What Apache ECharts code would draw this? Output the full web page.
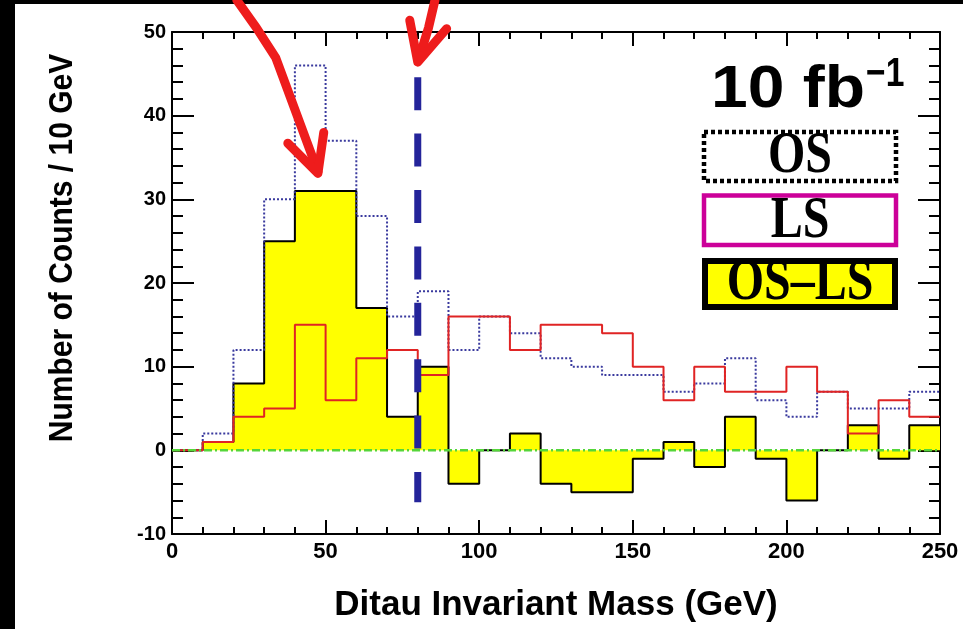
<!DOCTYPE html>
<html><head><meta charset="utf-8">
<script src="https://cdn.jsdelivr.net/npm/echarts@6/dist/echarts.min.js"></script>
<style>html,body{margin:0;padding:0;background:#fff}#c{width:963px;height:629px}</style>
</head><body><div id="c"></div>
<script>
// ---- data (counts per 10 GeV bin) ----
const binLow = [0,10,20,30,40,50,60,70,80,90,100,110,120,130,140,150,160,170,180,190,200,210,220,230,240];
const binWidth = 10;
const osCounts   = [0,2,12,30,46,37,28,16,19,12,16,14,11,10,9,9,7,8,11,6,4,7,5,5,7];
const lsCounts   = [0,1,4,5,15,6,11,12,9,16,16,12,15,15,14,10,6,10,7,7,10,7,2,6,4];
const diffCounts = [0,1,8,25,31,31,17,4,10,-4,0,2,-4,-5,-5,-1,1,-2,4,-1,-6,0,3,-1,3];
const xRange = [0, 250], xStep = 50;
const yRange = [-10, 50], yStep = 10;
// annotation: mass cut line and hand-drawn arrows (data coordinates)
const cutLine = [[80, 44.6], [80, -6.2]];
const zeroLine = [[0, 0], [250, 0]];
const arrow1Shaft = [[21.1, 53.8], [27.5, 50.5], [33.8, 46.9], [47.5, 33.3]];
const arrow1Head  = [[37.7, 36.7], [47.5, 33.1], [49.4, 38.0]];
const arrow2Shaft = [[85.6, 53.8], [83.5, 50.5], [80.2, 46.6]];
const arrow2Head  = [[77.4, 51.4], [80.0, 46.4], [89.4, 50.4]];

function steps(vals) {
  const pts = binLow.map((x, i) => [x, vals[i]]);
  pts.push([binLow[binLow.length - 1] + binWidth, vals[vals.length - 1]]);
  return pts;
}

const SANS = '"Liberation Sans", Arial, Helvetica, sans-serif';
const SERIF = '"Liberation Serif", "Times New Roman", serif';

const axisCommon = {
  type: 'value',
  axisLine: { show: true, onZero: false, lineStyle: { color: '#000', width: 2 } },
  splitLine: { show: false },
  minorSplitLine: { show: false }
};

const chart = echarts.init(document.getElementById('c'), null, { renderer: 'canvas' });
function arrowSeries(data) {
  return { type: 'line', data, symbol: 'none', clip: false, silent: true, z: 20,
    lineStyle: { color: '#ee1c1c', width: 9, cap: 'round', join: 'round' } };
}
chart.setOption({
  backgroundColor: '#ffffff',
  animation: false,
  grid: { left: 172, right: 23, top: 32, bottom: 95, containLabel: false },
  xAxis: [
    Object.assign({}, axisCommon, {
      position: 'bottom', min: xRange[0], max: xRange[1], interval: xStep,
      axisTick: { inside: true, length: 14, lineStyle: { color: '#000', width: 2 } },
      minorTick: { show: true, splitNumber: 5, length: 7, lineStyle: { color: '#000', width: 2 } },
      axisLabel: { color: '#000', fontFamily: SANS, fontWeight: 'bold', fontSize: 22, margin: 7 }
    }),
    Object.assign({}, axisCommon, {
      position: 'top', min: xRange[0], max: xRange[1], interval: xStep,
      axisTick: { inside: true, length: 14, lineStyle: { color: '#000', width: 2 } },
      minorTick: { show: true, splitNumber: 5, length: 7, lineStyle: { color: '#000', width: 2 } },
      axisLabel: { show: false }
    })
  ],
  yAxis: [
    Object.assign({}, axisCommon, {
      position: 'left', min: yRange[0], max: yRange[1], interval: yStep,
      axisTick: { inside: true, length: 22, lineStyle: { color: '#000', width: 2 } },
      minorTick: { show: true, splitNumber: 5, length: 11, lineStyle: { color: '#000', width: 2 } },
      axisLabel: { color: '#000', fontFamily: SANS, fontWeight: 'bold', fontSize: 20, margin: 6 }
    }),
    Object.assign({}, axisCommon, {
      position: 'right', min: yRange[0], max: yRange[1], interval: yStep,
      axisTick: { inside: true, length: 22, lineStyle: { color: '#000', width: 2 } },
      minorTick: { show: true, splitNumber: 5, length: 11, lineStyle: { color: '#000', width: 2 } },
      axisLabel: { show: false }
    })
  ],
  series: [
    { name: 'OS-LS', type: 'line', step: 'end', data: steps(diffCounts), symbol: 'none', z: 2,
      lineStyle: { color: '#000', width: 2 }, areaStyle: { color: '#ffff00', opacity: 1 } },
    { name: 'OS', type: 'line', step: 'end', data: steps(osCounts), symbol: 'none', z: 3,
      lineStyle: { color: '#3a3a9e', width: 2, type: [2, 2] } },
    { name: 'LS', type: 'line', step: 'end', data: steps(lsCounts), symbol: 'none', z: 4,
      lineStyle: { color: '#e02424', width: 2 } },
    { name: 'cut', type: 'line', data: cutLine, symbol: 'none', z: 5, silent: true,
      lineStyle: { color: '#24249a', width: 7, type: [33, 23.4], cap: 'butt' } },
    { name: 'zero', type: 'line', data: zeroLine, symbol: 'none', z: 6, silent: true,
      lineStyle: { color: '#55d63a', width: 2.5, type: [8, 3, 2, 3] } },
    arrowSeries(arrow1Shaft), arrowSeries(arrow1Head),
    arrowSeries(arrow2Shaft), arrowSeries(arrow2Head)
  ],
  graphic: [
    { type: 'rect', shape: { x: 0, y: 0, width: 15, height: 629 }, style: { fill: '#000' }, z: 0, silent: true },
    { type: 'rect', shape: { x: 0, y: 0, width: 963, height: 4 }, style: { fill: '#000' }, z: 0, silent: true },
    { type: 'text', x: 63, y: 248, rotation: Math.PI / 2, scaleY: 1.08, z: 10,
      style: { text: 'Number of Counts / 10 GeV', font: 'bold 30px ' + SANS, fill: '#000', align: 'center', verticalAlign: 'middle' } },
    { type: 'text', x: 556, y: 605, z: 10,
      style: { text: 'Ditau Invariant Mass (GeV)', font: 'bold 35px ' + SANS, fill: '#000', align: 'center', verticalAlign: 'middle' } },
    { type: 'text', x: 711, y: 90, scaleX: 1.1, z: 10,
      style: { text: '10 fb', font: 'bold 60px ' + SANS, fill: '#000', align: 'left', verticalAlign: 'middle' } },
    { type: 'text', x: 866, y: 75, scaleX: 0.82, z: 10,
      style: { text: '\u22121', font: 'bold 41px ' + SANS, fill: '#000', align: 'left', verticalAlign: 'middle' } },
    { type: 'rect', shape: { x: 704, y: 132, width: 192, height: 49 }, z: 10,
      style: { fill: '#fff', stroke: '#000', lineWidth: 4.5, lineDash: [4, 3] } },
    { type: 'rect', shape: { x: 704, y: 195.5, width: 192, height: 49.5 }, z: 10,
      style: { fill: '#fff', stroke: '#cc0099', lineWidth: 4.5 } },
    { type: 'rect', shape: { x: 705, y: 261, width: 190, height: 46 }, z: 10,
      style: { fill: '#ffff00', stroke: '#000', lineWidth: 6 } },
    { type: 'text', x: 800, y: 157, scaleY: 1.22, z: 11,
      style: { text: 'OS', font: 'bold 48px ' + SERIF, fill: '#000', align: 'center', verticalAlign: 'middle' } },
    { type: 'text', x: 800, y: 222, scaleY: 1.22, z: 11,
      style: { text: 'LS', font: 'bold 48px ' + SERIF, fill: '#000', align: 'center', verticalAlign: 'middle' } },
    { type: 'text', x: 800, y: 284, scaleY: 1.22, z: 11,
      style: { text: 'OS\u2013LS', font: 'bold 48px ' + SERIF, fill: '#000', align: 'center', verticalAlign: 'middle' } }
  ]
});
</script></body></html>
